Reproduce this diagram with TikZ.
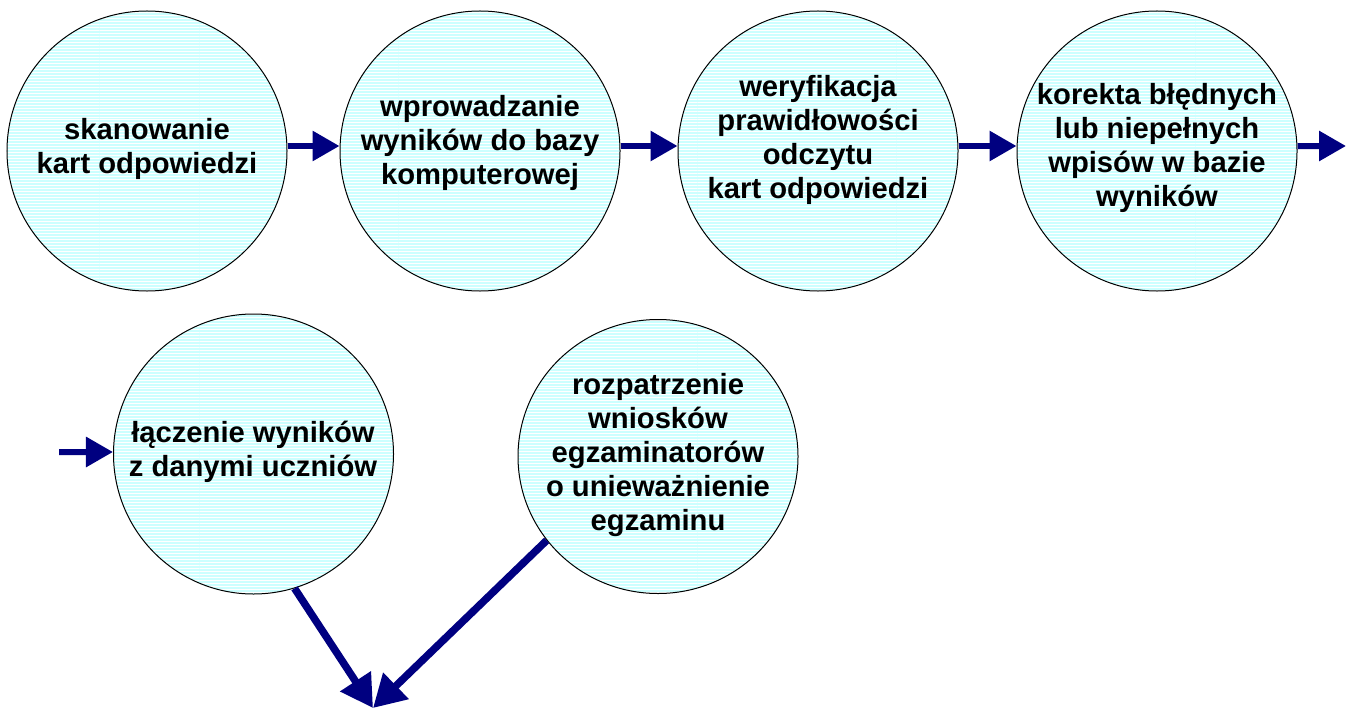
\documentclass[tikz,border=0pt]{standalone}
\usepackage{fontspec}
\setmainfont{Liberation Sans}
\usetikzlibrary{arrows.meta,patterns,shapes.geometric}
\definecolor{cfill}{RGB}{204,255,255}
\definecolor{navyblue}{RGB}{0,0,128}
\begin{document}
\begin{tikzpicture}[x=1bp,y=-1bp,
  circ/.style={circle, draw=black, line width=1bp, minimum size=280bp, inner sep=0pt,
    preaction={fill=cfill}, pattern=horizontal lines, pattern color=white},
  ell/.style={ellipse, draw=black, line width=1bp, minimum width=280bp, minimum height=274bp, inner sep=0pt,
    preaction={fill=cfill}, pattern=horizontal lines, pattern color=white},
  txt/.style={align=center, font=\fontsize{29.2bp}{34.2bp}\selectfont\bfseries, inner sep=0pt},
  harr/.style={draw=navyblue, line width=6bp, -{Triangle[length=27bp,width=29bp]}},
  darr/.style={draw=navyblue, line width=7.5bp, -{Triangle[length=32bp,width=35bp]}}]
\useasboundingbox (0,0) rectangle (1353,709);

\node[circ] (c1) at (147,151) {};
\node[circ] (c2) at (480,151) {};
\node[circ] (c3) at (818,151) {};
\node[circ] (c4) at (1157,151) {};
\node[circ] (c5) at (253.5,454) {};
\node[ell]  (c6) at (658,456.5) {};

\node[txt] (t1) at (147,149) {skanowanie\\kart odpowiedzi};
\node[txt] (t2) at (480,143) {wprowadzanie\\wyników do bazy\\komputerowej};
\node[txt] (t3) at (818,140) {weryfikacja\\prawidłowości\\odczytu\\kart odpowiedzi};
\node[txt] (t4) at (1157,148) {korekta błędnych\\lub niepełnych\\wpisów w bazie\\wyników};
\node[txt] (t5) at (253,452) {łączenie wyników\\z danymi uczniów};
\node[txt] (t6) at (658,455) {rozpatrzenie\\wniosków\\egzaminatorów\\o unieważnienie\\egzaminu};

\coordinate (e4) at (1346,146);
\coordinate (s5) at (59,452);
\coordinate (m) at (373,708);

\draw[harr] ([yshift=5bp]c1.east) -- ([yshift=5bp]c2.west);
\draw[harr] ([yshift=5bp]c2.east) -- ([yshift=5bp]c3.west);
\draw[harr] ([yshift=5bp]c3.east) -- ([yshift=5bp]c4.west);
\draw[harr] ([yshift=5bp]c4.east) -- (e4);
\draw[harr] (s5) -- ([yshift=2bp]c5.west);
\draw[darr] (c5.-73) -- (m);
\draw[darr] (c6.-143) -- (m);
\end{tikzpicture}
\end{document}
